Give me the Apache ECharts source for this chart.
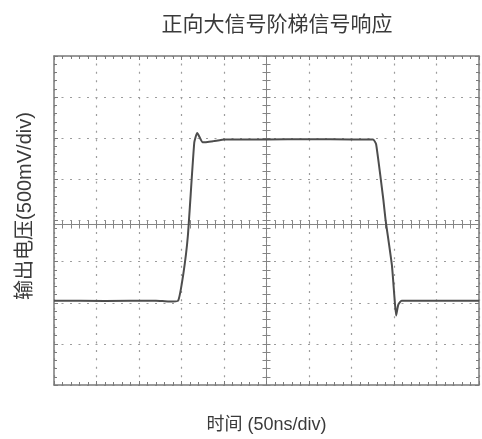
<!DOCTYPE html>
<html>
<head>
<meta charset="utf-8">
<script src="https://cdn.jsdelivr.net/npm/echarts@6/dist/echarts.min.js"></script>
<style>
html,body{margin:0;padding:0;background:#fff;}
#c{width:482px;height:439px;}
</style>
</head>
<body>
<div id="c"></div>
<script>
// ---- data ----
var chartTitle = '正向大信号阶梯信号响应';
var xName = '时间 (50ns/div)';
var yName = '输出电压(500mV/div)';
// time in ns (50 ns per division)
var timeNs = [0, 60, 120, 135, 146, 152, 157.5, 165, 168.5, 175, 187.5, 201, 250, 300, 350, 375.5, 379, 387.5, 390, 397.5, 400.5, 402.5, 405, 409, 450, 500];
// output voltage in mV (500 mV per division)
var voltMv = [-975, -978, -975, -985, -975, -660, -185, 945, 1065, 950, 965, 985, 985, 988, 985, 985, 925, 250, 15, -540, -930, -1155, -1025, -975, -975, -975];

var xMin = 0, xMax = 500, xStep = 50;
var yMin = -2000, yMax = 2000, yStep = 500;

var seriesData = timeNs.map(function (t, i) { return [t, voltMv[i]]; });

var G = {left: 54, top: 56, width: 425, height: 337};
var borderColor = '#7a7a7a';
var centerColor = '#858585';
var gridColor = '#9c9c9c';
var labelFont = '"Liberation Sans", "Noto Sans CJK SC", sans-serif';

function makeAxis(kind, gi, pos, opts) {
  var a = {
    type: 'value', gridIndex: gi, position: pos,
    offset: opts.offset || 0,
    min: kind === 'x' ? xMin : yMin, max: kind === 'x' ? xMax : yMax,
    interval: kind === 'x' ? xStep : yStep,
    axisLine: {show: opts.line !== false, onZero: false, lineStyle: {color: opts.color, width: opts.width || 1}},
    axisTick: {show: true, inside: opts.inside, length: 4, lineStyle: {color: opts.color}},
    minorTick: {show: true, splitNumber: 5, length: opts.minorLen || 3, lineStyle: {color: opts.color}},
    axisLabel: {show: false},
    splitLine: {show: false}
  };
  if (opts.extra) for (var k in opts.extra) a[k] = opts.extra[k];
  return a;
}
function hiddenAxis(kind, gi) {
  return {type: 'value', gridIndex: gi, show: false,
    min: kind === 'x' ? xMin : yMin, max: kind === 'x' ? xMax : yMax};
}

var yCenterOffset = -G.width / 2;

var chart = echarts.init(document.getElementById('c'));
chart.setOption({
  animation: false,
  backgroundColor: '#fff',
  title: {
    text: chartTitle, left: 272, top: 8, textAlign: 'center',
    textStyle: {fontFamily: 'Noto Sans CJK SC', fontSize: 21, fontWeight: 'normal', color: '#3a3a3a'}
  },
  graphic: [{
    type: 'text', x: 25, y: 206, rotation: Math.PI / 2,
    style: {text: yName, font: '20px ' + labelFont, fill: '#3a3a3a', align: 'center', verticalAlign: 'middle'}
  }],
  grid: [
    {left: G.left, top: G.top, width: G.width, height: G.height},
    // upper half: its bottom edge is the horizontal centre line
    {left: G.left, top: G.top, width: G.width, height: G.height / 2}
  ],
  xAxis: [
    makeAxis('x', 0, 'bottom', {color: borderColor, width: 1.5, inside: true, extra: {
      name: xName, nameLocation: 'middle', nameGap: 31,
      nameTextStyle: {fontFamily: labelFont, fontSize: 18, color: '#3a3a3a'},
      splitLine: {show: true, lineStyle: {color: gridColor, width: 1.2, type: [2, 6.425], dashOffset: 1}}
    }}),
    makeAxis('x', 0, 'top', {color: borderColor, width: 1.5, inside: true}),
    makeAxis('x', 1, 'bottom', {color: centerColor, inside: true, minorLen: 4}),
    makeAxis('x', 1, 'bottom', {color: centerColor, inside: false, minorLen: 4, line: false})
  ],
  yAxis: [
    makeAxis('y', 0, 'left', {color: borderColor, width: 1.5, inside: true, extra: {
      splitLine: {show: true, lineStyle: {color: gridColor, width: 1.2, type: [2, 6.5], dashOffset: 1}}
    }}),
    makeAxis('y', 0, 'right', {color: borderColor, width: 1.5, inside: true}),
    makeAxis('y', 0, 'left', {color: centerColor, inside: true, offset: yCenterOffset, minorLen: 4}),
    makeAxis('y', 0, 'left', {color: centerColor, inside: false, offset: yCenterOffset, minorLen: 4, line: false}),
    hiddenAxis('y', 1)
  ],
  series: [{
    type: 'line',
    xAxisIndex: 0, yAxisIndex: 0,
    data: seriesData,
    showSymbol: false,
    smooth: 0.15,
    lineStyle: {color: '#4d4d4d', width: 2},
    z: 10
  }]
});
</script>
</body>
</html>
